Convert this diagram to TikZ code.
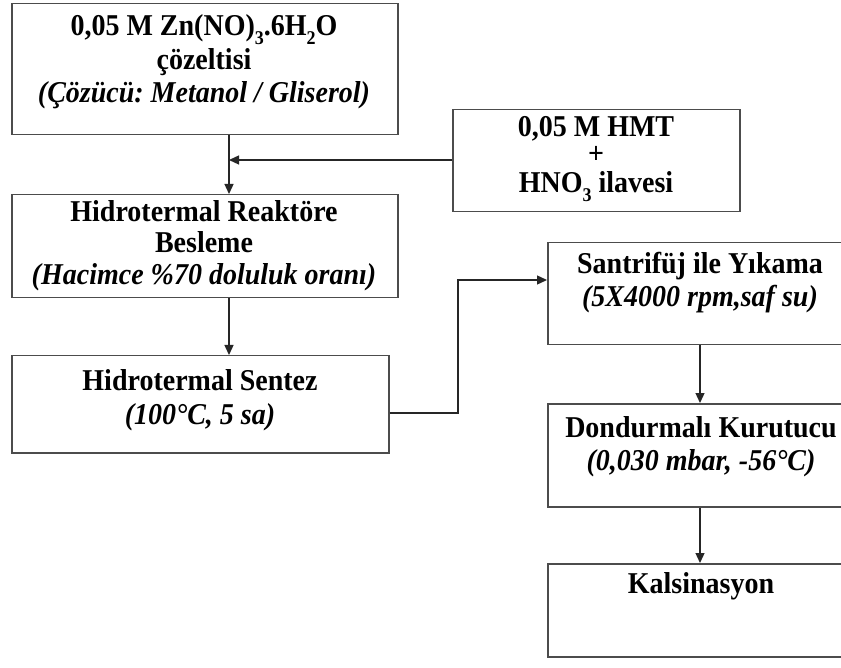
\documentclass[tikz,border=0pt]{standalone}
\usepackage{graphicx}
\usepackage{fontspec}
\setmainfont{Liberation Serif}
\usetikzlibrary{arrows.meta}
\frenchspacing
\newcommand\sbs[1]{\raisebox{-0.28em}{\fontsize{18}{18}\selectfont #1}}
\newcommand\tx[1]{\scalebox{1.0}[1.08]{#1}}
\begin{document}
\begin{tikzpicture}[x=1pt,y=-1pt,
  box/.style={draw=black!70, line width=1.5pt, inner sep=0pt, anchor=north west, fill=white},
  txt/.style={font=\fontsize{28}{34}\selectfont\bfseries, inner sep=0pt, anchor=base, text=black},
  itxt/.style={txt, font=\fontsize{28}{34}\selectfont\bfseries\itshape},
  conn/.style={draw=black!85, line width=1.3pt},
  arr/.style={conn, -{Triangle[length=10pt,width=9pt]}}]
\useasboundingbox (0,0) rectangle (841,668);
\clip (0,0) rectangle (841,668);
\fill[white] (0,0) rectangle (841,668);

% boxes
\node[box, minimum width=386pt, minimum height=131pt] (b1) at (11,3) {};
\node[box, minimum width=287pt, minimum height=102pt] (hmt) at (452,109) {};
\node[box, minimum width=386pt, minimum height=103pt] (b2) at (11,194) {};
\node[box, minimum width=377pt, minimum height=97pt] (b3) at (11,355) {};
\node[box, minimum width=308pt, minimum height=102pt] (b4) at (547,242) {};
\node[box, minimum width=308pt, minimum height=103pt] (b5) at (547,403) {};
\node[box, minimum width=308pt, minimum height=93pt] (b6) at (547,563) {};

% texts
\node[txt] (t1a) at (204,36) {\tx{0,05 M Zn(NO)\sbs{3}.6H\sbs{2}O}};
\node[txt] (t1b) at (204,70) {\tx{çözeltisi}};
\node[itxt] (t1c) at (204,103) {\tx{(Çözücü: Metanol / Gliserol)}};

\node[txt] (h1) at (596,137) {\tx{0,05 M HMT}};
\node[txt] (h2) at (596,164) {\smash{\tx{+}}};
\node[txt] (h3) at (596,193) {\tx{HNO\sbs{3} ilavesi}};

\node[txt] (t2a) at (204,222) {\tx{Hidrotermal Reaktöre}};
\node[txt] (t2b) at (204,253) {\tx{Besleme}};
\node[itxt] (t2c) at (204,285) {\tx{(Hacimce \%70 doluluk oranı)}};

\node[txt] (t3a) at (200,391) {\tx{Hidrotermal Sentez}};
\node[itxt] (t3b) at (200,424) {\tx{(100°C, 5 sa)}};

\node[txt] (t4a) at (700,274) {\tx{Santrifüj ile Yıkama}};
\node[itxt] (t4b) at (700,307) {\tx{(5X4000 rpm,saf su)}};

\node[txt] (t5a) at (701,437) {\tx{Dondurmalı Kurutucu}};
\node[itxt] (t5b) at (701,470) {\tx{(0,030 mbar, -56°C)}};

\node[txt] (t6a) at (701,593) {\tx{Kalsinasyon}};

% helper coordinates
\coordinate (j) at (229,160);
\coordinate (k) at (458,413);
\coordinate (m) at (458,280);
\coordinate (r) at (700,0);

% connectors
\draw[arr] (b1.south -| j) -- (b2.north -| j);
\draw[arr] (hmt.west |- j) -- (j);
\draw[arr] (b2.south -| j) -- (b3.north -| j);
\draw[arr] (b3.east |- k) -- (k) -- (m) -- (m -| b4.west);
\draw[arr] (b4.south -| r) -- (b5.north -| r);
\draw[arr] (b5.south -| r) -- (b6.north -| r);
\end{tikzpicture}
\end{document}
